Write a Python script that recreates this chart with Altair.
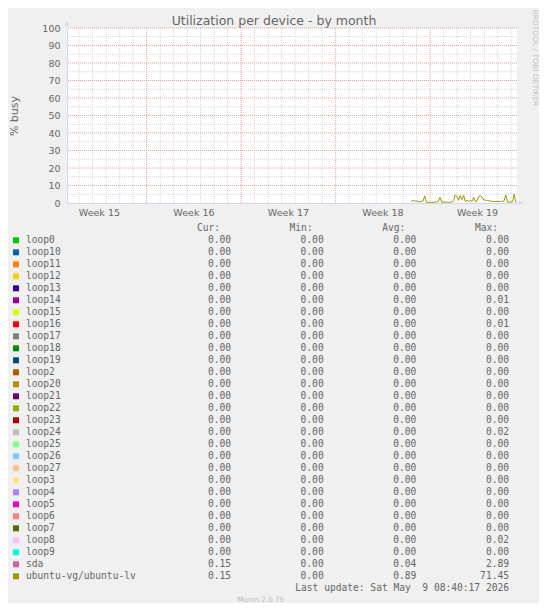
import altair as alt
import pandas as pd

# ---------------- data ----------------
title_text = "Utilization per device - by month"
y_title = "% busy"
watermark = "RRDTOOL / TOBI OETIKER"
last_update = "Last update: Sat May \u00a09 08:40:17 2026"
version_text = "Munin 2.0.75"

# time axis in days from left edge of the graph
x_domain = [0, 33.33]
week_labels = ["Week 15", "Week 16", "Week 17", "Week 18", "Week 19"]
week_centers = [2.4, 9.4, 16.4, 23.4, 30.4]
week_starts = [5.9, 12.9, 19.9, 26.9]
day_lines = [0.9, 1.9, 2.9, 3.9, 4.9, 6.9, 7.9, 8.9, 9.9, 10.9, 11.9, 13.9, 14.9,
             15.9, 16.9, 17.9, 18.9, 20.9, 21.9, 22.9, 23.9, 24.9, 25.9, 27.9,
             28.9, 29.9, 30.9, 31.9, 32.9]
y_major = [10, 20, 30, 40, 50, 60, 70, 80, 90, 100]
y_minor = [5, 15, 25, 35, 45, 55, 65, 75, 85, 95]
y_labels = [0, 10, 20, 30, 40, 50, 60, 70, 80, 90, 100]

# ubuntu-vg/ubuntu-lv, 3-hour samples starting at day 25.5
series_start = 25.5
series_step = 0.125
ubuntu_lv = [0.8, 1.6, 1.0, 1.3, 0.6, 0.7, 0.9, 1.2, 4.0, 0.4,
             0.3, 0.3, 0.4, 0.3, 0.6, 0.6, 0.9, 3.3, 0.5, 0.4,
             0.6, 0.5, 0.4, 0.5, 0.6, 1.2, 4.6, 3.8, 1.5, 4.1,
             2.0, 4.4, 0.9, 1.6, 0.8, 1.5, 1.0, 3.2, 0.7, 1.2,
             3.9, 4.1, 3.4, 1.7, 1.6, 1.5, 1.3, 1.0, 0.9, 0.8,
             1.0, 0.9, 0.8, 1.0, 0.9, 1.3, 4.6, 0.6, 0.5, 0.6,
             0.7, 5.2, 0.15]

names = ["loop0", "loop10", "loop11", "loop12", "loop13", "loop14", "loop15",
         "loop16", "loop17", "loop18", "loop19", "loop2", "loop20", "loop21",
         "loop22", "loop23", "loop24", "loop25", "loop26", "loop27", "loop3",
         "loop4", "loop5", "loop6", "loop7", "loop8", "loop9", "sda",
         "ubuntu-vg/ubuntu-lv"]
colors = ["#00CC00", "#0066B3", "#FF8000", "#FFCC00", "#330099", "#990099",
          "#CCFF00", "#FF0000", "#808080", "#008F00", "#00487D", "#B35A00",
          "#B38F00", "#6B006B", "#8FB300", "#B30000", "#BEBEBE", "#80FF80",
          "#80C9FF", "#FFC080", "#FFE680", "#AA80FF", "#EE00CC", "#FF8080",
          "#666600", "#FFBFFF", "#00FFCC", "#CC6699", "#999900"]
cur_vals = [0.00] * 27 + [0.15, 0.15]
min_vals = [0.00] * 29
avg_vals = [0.00] * 27 + [0.04, 0.89]
max_vals = [0.00, 0.00, 0.00, 0.00, 0.00, 0.01, 0.00, 0.01, 0.00, 0.00,
            0.00, 0.00, 0.00, 0.00, 0.00, 0.00, 0.02, 0.00, 0.00, 0.00,
            0.00, 0.00, 0.00, 0.00, 0.00, 0.02, 0.00, 2.89, 71.45]
headers = ["Cur:", "Min:", "Avg:", "Max:"]

# ---------------- styles ----------------
FONT = "DejaVu Sans"
MONO = "DejaVu Sans Mono"
TXT = "#666666"
AXIS_C = "#CFD6F8"
GRID_MINOR = "#d4d4d4"
GRID_MAJOR = "#e6a0a0"

def xs():
    return alt.Scale(domain=x_domain, nice=False, zero=False)

def ys():
    return alt.Scale(domain=[0, 100], nice=False, zero=False)

# ---------------- graph part ----------------
series_df = pd.DataFrame({
    "day": [series_start + series_step * i for i in range(len(ubuntu_lv))],
    "value": ubuntu_lv,
})

vminor = alt.Chart(pd.DataFrame({"d": day_lines})).mark_rule(
    color=GRID_MINOR, strokeDash=[1, 1], strokeWidth=1
).encode(x=alt.X("d:Q", scale=xs(), axis=None))

vmajor = alt.Chart(pd.DataFrame({"d": week_starts})).mark_rule(
    color=GRID_MAJOR, strokeDash=[1, 1], strokeWidth=1
).encode(x=alt.X("d:Q", scale=xs(), axis=None))

hminor = alt.Chart(pd.DataFrame({"v": y_minor})).mark_rule(
    color=GRID_MINOR, strokeDash=[1, 1], strokeWidth=1
).encode(y=alt.Y("v:Q", scale=ys(), axis=None))

hmajor = alt.Chart(pd.DataFrame({"v": y_major})).mark_rule(
    color=GRID_MAJOR, strokeDash=[1, 1], strokeWidth=1
).encode(y=alt.Y("v:Q", scale=ys(), axis=None))

line = alt.Chart(series_df).mark_line(color="#999900", strokeWidth=1).encode(
    x=alt.X("day:Q", scale=xs(), axis=alt.Axis(
        labels=False, ticks=False, grid=False, title=None,
        domainColor=AXIS_C, domainWidth=1)),
    y=alt.Y("value:Q", scale=ys(), axis=alt.Axis(
        values=y_labels, grid=False, ticks=False, labelPadding=7,
        labelFont=FONT, labelFontSize=9.5, labelColor=TXT,
        domainColor=AXIS_C, domainWidth=1,
        title=y_title, titleFont=FONT, titleFontSize=11,
        titleFontWeight="normal", titleColor=TXT,
        titleX=-53, titleY=87.5, titleAngle=270,
        titleAlign="center", titleBaseline="middle")),
)

week_text = alt.Chart(pd.DataFrame({"pos": week_centers, "label": week_labels})).mark_text(
    font=FONT, fontSize=9.5, color=TXT, baseline="middle", align="center", dy=9.5
).encode(
    x=alt.X("pos:Q", scale=xs(), axis=None),
    y=alt.YDatum(0, scale=ys(), axis=None),
    text="label:N",
)

y_arrow = alt.Chart(pd.DataFrame({"a": [0]})).mark_point(
    shape="triangle-up", filled=True, color=AXIS_C, size=22, opacity=1
).encode(x=alt.XDatum(0, scale=xs(), axis=None), y=alt.YDatum(102.4, scale=ys(), axis=None))

x_arrow = alt.Chart(pd.DataFrame({"a": [0]})).mark_point(
    shape="triangle-right", filled=True, color=AXIS_C, size=22, opacity=1
).encode(x=alt.XDatum(33.6, scale=xs(), axis=None), y=alt.YDatum(0, scale=ys(), axis=None))

# ---------------- legend table ----------------
def fmt(v):
    return f"{v:.2f}"

rows = list(range(len(names)))
swatch_df = pd.DataFrame({"row": rows, "col": [-1] * len(rows), "color": colors})
name_df = pd.DataFrame({"row": rows, "col": [0] * len(rows), "text": names})
val_records = []
for i in rows:
    for c, arr in enumerate([cur_vals, min_vals, avg_vals, max_vals], start=1):
        val_records.append({"row": i, "col": c, "text": fmt(arr[i])})
val_df = pd.DataFrame(val_records)
head_df = pd.DataFrame({"row": [-1] * 4, "col": [1, 2, 3, 4], "text": headers})
foot_df = pd.DataFrame({"row": [len(names)], "col": [4], "text": [last_update]})
ver_df = pd.DataFrame({"row": [len(names) + 1], "col": [1.32], "text": [version_text]})

def txs():
    return alt.Scale(domain=[-1, 0, 1, 4], range=[-51, -41, 164, 442], nice=False, zero=False)

def tys():
    return alt.Scale(domain=[-1, 30], range=[200.3, 572.3], nice=False, zero=False)

def tx(axis=None):
    return alt.X("col:Q", scale=txs(), axis=axis)

def ty(axis=None):
    return alt.Y("row:Q", scale=tys(), axis=axis)

top_axis = alt.Axis(orient="top", labels=False, ticks=False, domain=False, grid=False,
                    title=title_text, titleFont=FONT, titleFontSize=12.5,
                    titleFontWeight="normal", titleColor=TXT,
                    titleX=206.5, titleY=-4, titleAlign="center",
                    titleBaseline="alphabetic", titleAngle=0)
right_axis = alt.Axis(orient="right", labels=False, ticks=False, domain=False, grid=False,
                      title=watermark, titleFont=FONT, titleFontSize=7.5,
                      titleFontWeight="normal", titleColor="#c4c4c4",
                      titleX=17.5, titleY=-19, titleAngle=90,
                      titleAlign="left", titleBaseline="middle")

swatches = alt.Chart(swatch_df).mark_square(size=36, filled=True, opacity=1).encode(
    x=tx(top_axis), y=ty(right_axis), color=alt.Color("color:N", scale=None))

name_text = alt.Chart(name_df).mark_text(
    font=MONO, fontSize=9.6, color=TXT, align="left", baseline="middle"
).encode(x=tx(), y=ty(), text="text:N")

val_text = alt.Chart(val_df).mark_text(
    font=MONO, fontSize=9.6, color=TXT, align="right", baseline="middle"
).encode(x=tx(), y=ty(), text="text:N")

head_text = alt.Chart(head_df).mark_text(
    font=MONO, fontSize=9.6, color=TXT, align="right", baseline="middle", dx=-11
).encode(x=tx(), y=ty(), text="text:N")

foot_text = alt.Chart(foot_df).mark_text(
    font=MONO, fontSize=9.6, color=TXT, align="right", baseline="middle"
).encode(x=tx(), y=ty(), text="text:N")

ver_text = alt.Chart(ver_df).mark_text(
    font=FONT, fontSize=7.2, color="#bbbbbb", align="center", baseline="middle"
).encode(x=tx(), y=ty(), text="text:N")

chart = alt.layer(
    vminor, hminor, vmajor, hmajor, line, week_text, y_arrow, x_arrow,
    swatches, name_text, val_text, head_text, foot_text, ver_text
).resolve_scale(
    x="independent", y="independent"
).properties(
    width=450, height=175,
    autosize=alt.AutoSizeParams(type="none"),
    padding={"left": 59, "top": 20, "right": 22, "bottom": 400},
    background="#F0F0F0",
).configure_view(
    fill="#ffffff", stroke=None
)

chart.save("out.html", embed_options={"renderer": "svg", "actions": False})
